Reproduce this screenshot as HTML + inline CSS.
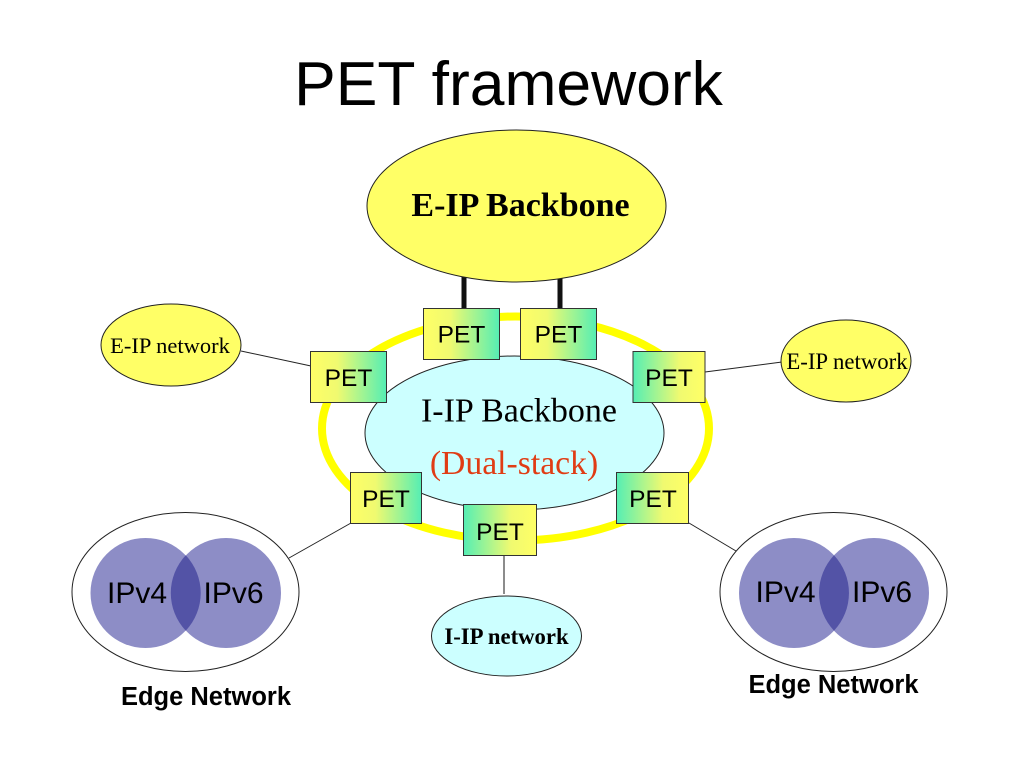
<!DOCTYPE html>
<html>
<head>
<meta charset="utf-8">
<style>
html,body{margin:0;padding:0;background:#fff;}
svg{display:block;}
.s{font-family:"Liberation Sans",sans-serif;}
.t{font-family:"Liberation Serif",serif;}
</style>
</head>
<body>
<svg width="1024" height="768" viewBox="0 0 1024 768" xmlns="http://www.w3.org/2000/svg">
<defs>
<linearGradient id="yg" x1="0" y1="0" x2="1" y2="0"><stop offset="0" stop-color="#ffff66"/><stop offset="0.35" stop-color="#f0fa70"/><stop offset="1" stop-color="#55eeb4"/></linearGradient>
<linearGradient id="gy" x1="0" y1="0" x2="1" y2="0"><stop offset="0" stop-color="#55eeb4"/><stop offset="0.65" stop-color="#f0fa70"/><stop offset="1" stop-color="#ffff66"/></linearGradient>
</defs>
<rect width="1024" height="768" fill="#fff"/>
<text x="508.500" y="105" text-anchor="middle" class="s" font-size="62.400" fill="#000">PET framework</text>

<line x1="464" y1="275" x2="464" y2="310" stroke="#111" stroke-width="5"/>
<line x1="560" y1="275" x2="560" y2="310" stroke="#111" stroke-width="5"/>
<ellipse cx="516.500" cy="206" rx="149.500" ry="76" fill="#ffff66" stroke="#222" stroke-width="1"/>
<text x="520.500" y="216" text-anchor="middle" class="t" font-size="34" font-weight="bold" fill="#000">E-IP Backbone</text>

<ellipse cx="515.500" cy="428.500" rx="193.500" ry="112" fill="#fff" stroke="#ffff00" stroke-width="8"/>
<ellipse cx="514.500" cy="433" rx="149.500" ry="77" fill="#ccffff" stroke="#222" stroke-width="1"/>
<text x="519" y="421.500" text-anchor="middle" class="t" font-size="34" fill="#000">I-IP Backbone</text>
<text x="514" y="474" text-anchor="middle" class="t" font-size="33.700" fill="#e03c14">(Dual-stack)</text>

<line x1="241" y1="351" x2="311" y2="366" stroke="#222" stroke-width="1"/>
<line x1="705" y1="372" x2="782" y2="362" stroke="#222" stroke-width="1"/>
<line x1="289" y1="558" x2="351" y2="523" stroke="#222" stroke-width="1"/>
<line x1="689" y1="523" x2="736" y2="551" stroke="#222" stroke-width="1"/>
<line x1="504" y1="556" x2="504" y2="594" stroke="#666" stroke-width="1.500"/>

<ellipse cx="171" cy="345" rx="70" ry="41" fill="#ffff66" stroke="#222" stroke-width="1"/>
<text x="170" y="353" text-anchor="middle" class="t" font-size="22.500" fill="#000">E-IP network</text>
<ellipse cx="846" cy="361" rx="65" ry="41" fill="#ffff66" stroke="#222" stroke-width="1"/>
<text x="847" y="369" text-anchor="middle" class="t" font-size="22.800" fill="#000">E-IP network</text>
<ellipse cx="506.500" cy="636" rx="75" ry="40" fill="#ccffff" stroke="#222" stroke-width="1"/>
<text x="506.500" y="644" text-anchor="middle" class="t" font-size="22.700" font-weight="bold" fill="#000">I-IP network</text>

<rect x="423.500" y="308.500" width="76" height="51" fill="url(#yg)" stroke="#333" stroke-width="1"/>
<text x="461.500" y="342.500" text-anchor="middle" class="s" font-size="24.500" fill="#000">PET</text>
<rect x="520.500" y="308.500" width="76" height="51" fill="url(#yg)" stroke="#333" stroke-width="1"/>
<text x="558.500" y="342.500" text-anchor="middle" class="s" font-size="24.500" fill="#000">PET</text>
<rect x="310.500" y="351.500" width="76" height="51" fill="url(#yg)" stroke="#333" stroke-width="1"/>
<text x="348.500" y="386" text-anchor="middle" class="s" font-size="24.500" fill="#000">PET</text>
<rect x="633" y="351.500" width="72" height="51" fill="url(#gy)" stroke="#333" stroke-width="1"/>
<text x="669" y="386" text-anchor="middle" class="s" font-size="24.500" fill="#000">PET</text>
<rect x="350.500" y="472.500" width="71" height="51" fill="url(#yg)" stroke="#333" stroke-width="1"/>
<text x="386" y="507" text-anchor="middle" class="s" font-size="24.500" fill="#000">PET</text>
<rect x="616.500" y="472.500" width="72" height="51" fill="url(#gy)" stroke="#333" stroke-width="1"/>
<text x="653" y="507" text-anchor="middle" class="s" font-size="24.500" fill="#000">PET</text>
<rect x="463.500" y="504.500" width="73" height="51" fill="url(#gy)" stroke="#333" stroke-width="1"/>
<text x="500" y="540" text-anchor="middle" class="s" font-size="24.500" fill="#000">PET</text>

<ellipse cx="185.500" cy="592" rx="113.500" ry="79.500" fill="#fff" stroke="#222" stroke-width="1"/>
<circle cx="145.500" cy="593" r="55" fill="#8d8dc6"/>
<circle cx="226" cy="593" r="55" fill="#8d8dc6"/>
<path d="M185.750 555.300 A55 55 0 0 1 185.750 630.700 A55 55 0 0 1 185.750 555.300 Z" fill="#5353a6"/>
<text x="137" y="603" text-anchor="middle" class="s" font-size="30" fill="#000">IPv4</text>
<text x="233.500" y="603" text-anchor="middle" class="s" font-size="30" fill="#000">IPv6</text>
<text x="206" y="705" text-anchor="middle" class="s" font-size="25.500" font-weight="bold" fill="#000">Edge Network</text>

<ellipse cx="833.500" cy="592" rx="113.500" ry="79.500" fill="#fff" stroke="#222" stroke-width="1"/>
<circle cx="794" cy="593" r="55" fill="#8d8dc6"/>
<circle cx="874" cy="593" r="55" fill="#8d8dc6"/>
<path d="M834 555.300 A55 55 0 0 1 834 630.700 A55 55 0 0 1 834 555.300 Z" fill="#5353a6"/>
<text x="785.500" y="602" text-anchor="middle" class="s" font-size="30" fill="#000">IPv4</text>
<text x="882" y="602" text-anchor="middle" class="s" font-size="30" fill="#000">IPv6</text>
<text x="833.500" y="693" text-anchor="middle" class="s" font-size="25.500" font-weight="bold" fill="#000">Edge Network</text>
</svg>
</body>
</html>
